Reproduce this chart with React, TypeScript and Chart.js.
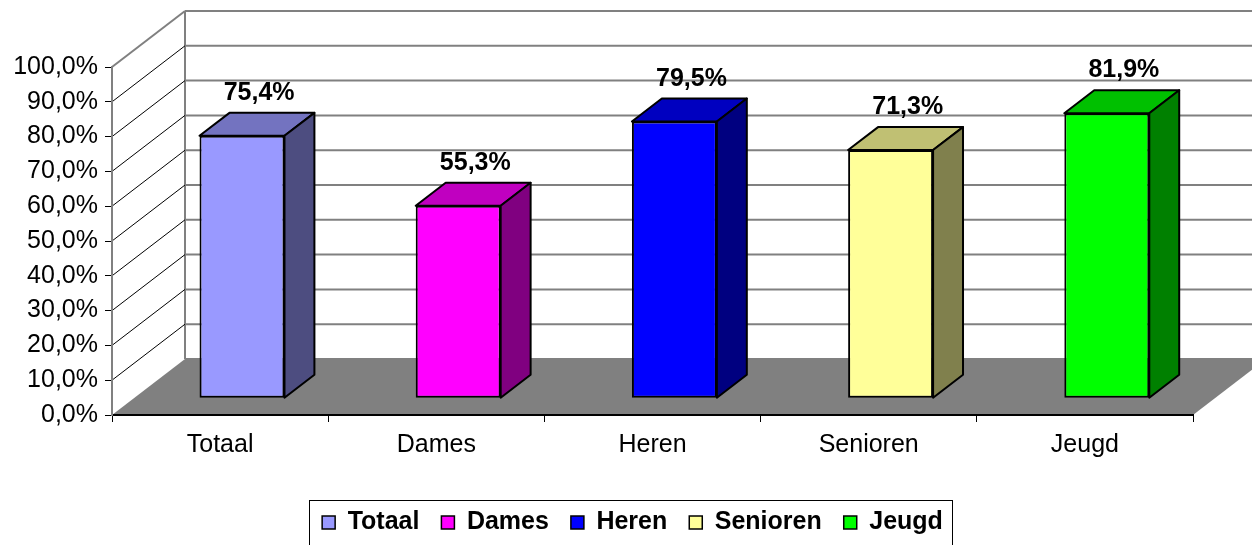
import React, { useEffect, useRef } from "react";
import { Chart, registerables } from "chart.js";

Chart.register(...registerables);

// ---- data ----
const categories = ["Totaal", "Dames", "Heren", "Senioren", "Jeugd"];
const values = [75.4, 55.3, 79.5, 71.3, 81.9];
const yTickValues = [0, 10, 20, 30, 40, 50, 60, 70, 80, 90, 100];

// ---- colours ----
const frontColors = ["#9999FF", "#FF00FF", "#0000FF", "#FFFF99", "#00FF00"];
const topColors = ["#7373C0", "#C000C0", "#0000C0", "#C0C073", "#00C000"];
const sideColors = ["#4D4D80", "#800080", "#000080", "#80804D", "#008000"];

// ---- 3D geometry (pixels) ----
const WALL_DX = 73;
const WALL_DY = -56;
const BAR_FRONT = 0.3;
const BAR_BACK = 0.71;
const LABEL_DX = 39;
const LABEL_ABOVE = 13;
const LEGEND_SHIFT = 72;

const FONT = "'Liberation Sans', Arial, sans-serif";

const fmt = (v: number) => v.toFixed(1).replace(".", ",") + "%";

const threeD = {
  id: "threeD",
  afterLayout(chart: any) {
    const lg = chart.legend;
    if (lg) {
      lg.left += LEGEND_SHIFT;
    }
  },
  beforeDraw(chart: any) {
    const { ctx, chartArea: a, scales } = chart;
    const y = scales.y;
    ctx.save();
    ctx.fillStyle = "#ffffff";
    ctx.fillRect(0, 0, chart.width, chart.height);

    // back wall gridlines
    ctx.strokeStyle = "#808080";
    ctx.lineWidth = 2;
    for (const t of yTickValues) {
      const py = y.getPixelForValue(t) + WALL_DY;
      ctx.beginPath();
      ctx.moveTo(a.left + WALL_DX, py);
      ctx.lineTo(a.right + WALL_DX, py);
      ctx.stroke();
    }
    // back wall left edge
    ctx.beginPath();
    ctx.moveTo(a.left + WALL_DX, y.getPixelForValue(100) + WALL_DY);
    ctx.lineTo(a.left + WALL_DX, y.getPixelForValue(0) + WALL_DY);
    ctx.stroke();

    // side wall gridlines
    ctx.strokeStyle = "#000000";
    ctx.lineWidth = 1;
    for (const t of yTickValues) {
      if (t === 0 || t === 100) continue;
      const py = y.getPixelForValue(t);
      ctx.beginPath();
      ctx.moveTo(a.left, py);
      ctx.lineTo(a.left + WALL_DX, py + WALL_DY);
      ctx.stroke();
    }
    // side wall top edge
    ctx.strokeStyle = "#808080";
    ctx.lineWidth = 2;
    const top = y.getPixelForValue(100);
    ctx.beginPath();
    ctx.moveTo(a.left, top);
    ctx.lineTo(a.left + WALL_DX, top + WALL_DY);
    ctx.stroke();

    // floor
    const fb = y.getPixelForValue(0);
    ctx.fillStyle = "#808080";
    ctx.beginPath();
    ctx.moveTo(a.left, fb);
    ctx.lineTo(a.left + WALL_DX, fb + WALL_DY);
    ctx.lineTo(a.right + WALL_DX, fb + WALL_DY);
    ctx.lineTo(a.right, fb);
    ctx.closePath();
    ctx.fill();
    ctx.restore();
  },
  beforeDatasetDraw(chart: any) {
    chart.ctx.save();
    chart.ctx.translate(WALL_DX * BAR_FRONT, WALL_DY * BAR_FRONT);
  },
  afterDatasetDraw(chart: any, args: any) {
    const ctx = chart.ctx;
    ctx.restore();
    const dx1 = WALL_DX * BAR_FRONT;
    const dy1 = WALL_DY * BAR_FRONT;
    const ddx = WALL_DX * (BAR_BACK - BAR_FRONT);
    const ddy = WALL_DY * (BAR_BACK - BAR_FRONT);
    ctx.save();
    ctx.lineWidth = 2;
    ctx.strokeStyle = "#000000";
    ctx.lineJoin = "round";
    args.meta.data.forEach((el: any, i: number) => {
      const p = el.getProps(["x", "y", "base", "width"], true);
      const xl = p.x - p.width / 2 + dx1;
      const xr = p.x + p.width / 2 + dx1;
      const yt = p.y + dy1;
      const yb = p.base + dy1;
      // top face
      ctx.fillStyle = topColors[i];
      ctx.beginPath();
      ctx.moveTo(xl, yt);
      ctx.lineTo(xl + ddx, yt + ddy);
      ctx.lineTo(xr + ddx, yt + ddy);
      ctx.lineTo(xr, yt);
      ctx.closePath();
      ctx.fill();
      ctx.stroke();
      // side face
      ctx.fillStyle = sideColors[i];
      ctx.beginPath();
      ctx.moveTo(xr, yt);
      ctx.lineTo(xr + ddx, yt + ddy);
      ctx.lineTo(xr + ddx, yb + ddy);
      ctx.lineTo(xr, yb);
      ctx.closePath();
      ctx.fill();
      ctx.stroke();
    });
    ctx.restore();
  },
  afterDatasetsDraw(chart: any) {
    const ctx = chart.ctx;
    const meta = chart.getDatasetMeta(0);
    const dy2 = WALL_DY * BAR_BACK;
    ctx.save();
    ctx.fillStyle = "#000000";
    ctx.font = `bold 25px ${FONT}`;
    ctx.textAlign = "center";
    ctx.textBaseline = "alphabetic";
    meta.data.forEach((el: any, i: number) => {
      const p = el.getProps(["x", "y"], true);
      ctx.fillText(fmt(values[i]), p.x + LABEL_DX, p.y + dy2 - LABEL_ABOVE);
    });
    ctx.restore();
  },
  afterDraw(chart: any) {
    const lg = chart.legend;
    if (!lg || !lg.legendHitBoxes || !lg.legendHitBoxes.length) return;
    const hb = lg.legendHitBoxes;
    const first = hb[0];
    const last = hb[hb.length - 1];
    const ctx = chart.ctx;
    const x0 = Math.round(first.left - 13) + 0.5;
    const x1 = Math.round(last.left + last.width + 9) + 0.5;
    const y0 = Math.round(first.top - 10) + 0.5;
    ctx.save();
    ctx.strokeStyle = "#000000";
    ctx.lineWidth = 1;
    ctx.strokeRect(x0, y0, x1 - x0, chart.height + 20 - y0);
    ctx.restore();
  },
};

export default function App() {
  const ref = useRef<HTMLCanvasElement | null>(null);

  useEffect(() => {
    document.body.style.margin = "0";
    const canvas = ref.current;
    if (!canvas) return;
    const chart = new Chart(canvas, {
      type: "bar",
      data: {
        labels: categories,
        datasets: [
          {
            label: "Percentage",
            data: values,
            backgroundColor: frontColors,
            borderColor: "#000000",
            borderWidth: 2,
            borderSkipped: false,
            categoryPercentage: 1,
            barPercentage: 0.393,
          },
        ],
      },
      options: {
        responsive: false,
        animation: false,
        devicePixelRatio: 1,
        events: [],
        layout: { padding: { top: 67, right: 59, bottom: 0, left: 0 } },
        scales: {
          x: {
            offset: true,
            grid: {
              offset: true,
              drawOnChartArea: false,
              drawTicks: true,
              tickLength: 7,
              color: "#000000",
            },
            border: { display: true, color: "#000000", width: 2 },
            ticks: {
              color: "#000000",
              font: { size: 25, family: FONT },
              padding: 8,
              maxRotation: 0,
              autoSkip: false,
            },
            afterFit: (s: any) => {
              s.height = 73;
            },
          },
          y: {
            min: 0,
            max: 100,
            grid: {
              drawOnChartArea: false,
              drawTicks: true,
              tickLength: 7,
              color: "#000000",
            },
            border: { display: true, color: "#808080", width: 2 },
            ticks: {
              stepSize: 10,
              color: "#000000",
              font: { size: 25, family: FONT },
              padding: 7,
              callback: (v: any) => fmt(Number(v)),
            },
            afterFit: (s: any) => {
              s.width = 112;
            },
          },
        },
        plugins: {
          tooltip: { enabled: false },
          legend: {
            display: true,
            position: "bottom",
            onClick: () => {},
            labels: {
              boxWidth: 13,
              boxHeight: 13,
              padding: 22,
              color: "#000000",
              font: { size: 25, weight: "bold", family: FONT },
              generateLabels: () =>
                categories.map((c, i) => ({
                  text: c,
                  fillStyle: frontColors[i],
                  strokeStyle: "#000000",
                  lineWidth: 1.5,
                  hidden: false,
                  index: i,
                  datasetIndex: 0,
                })),
            },
          },
        },
      },
      plugins: [threeD],
    } as any);
    return () => chart.destroy();
  }, []);

  return (
    <div style={{ width: 1252, height: 545 }}>
      <canvas ref={ref} width={1252} height={545} style={{ display: "block" }} />
    </div>
  );
}
